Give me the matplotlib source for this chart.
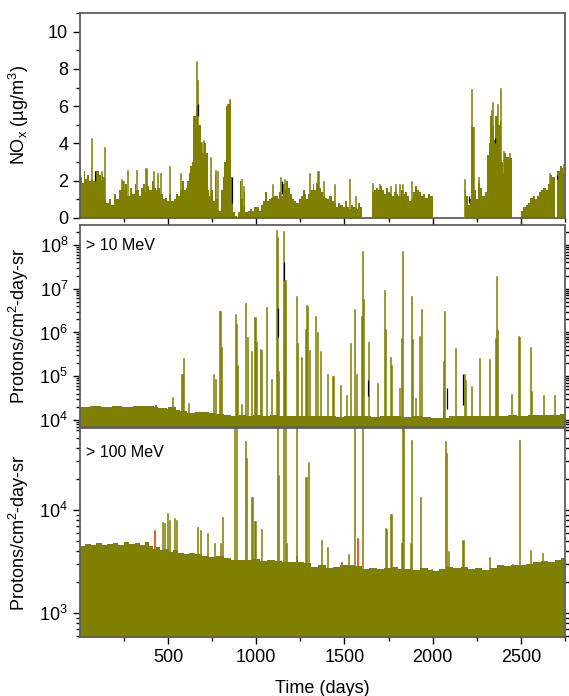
import numpy as np
import matplotlib
matplotlib.use("Agg")
import matplotlib.pyplot as plt
from matplotlib.ticker import MultipleLocator, LogLocator, NullFormatter

plt.rcParams['font.family'] = ['Liberation Sans', 'DejaVu Sans']
plt.rcParams['mathtext.fontset'] = 'custom'
plt.rcParams['mathtext.rm'] = 'Liberation Sans'
plt.rcParams['mathtext.it'] = 'Liberation Sans:italic'
plt.rcParams['mathtext.bf'] = 'Liberation Sans:bold'

OLIVE = '#808000'

# ---------------- NOx (top panel) ----------------
nox_days = [0,6,14,23,31,41,52,62,76,85,97,109,120,128,140,151,165,175,192,206,221,237,248,258,268,283,295,310,320,333,
            345,357,370,382,394,407,419,432,444,456,469,481,493,506,518,531,543,557,568,578,588,599,609,617,626,634,642,650,
            659,667,675,684,692,704,716,725,733,743,753,766,774,783,791,803,811,820,828,840,849,857,863,871,880,890,898,908,
            915,923,931,939,952,964,977,989,1001,1014,1026,1038,1051,1059,1072,1084,1096,1109,1121,1129,1142,1150,1162,1171,
            1181,1191,1204,1216,1228,1241,1253,1266,1274,1282,1295,1307,1320,1328,1336,1344,1352,1365,1377,1390,1402,1414,
            1427,1439,1451,1464,1476,1489,1501,1513,1526,1538,1551,1563,1575,1588,1602,1656,1666,1679,1691,1703,1714,1724,
            1736,1745,1757,1769,1782,1794,1806,1819,1831,1844,1856,1864,1877,1889,1901,1910,1922,1934,1947,1959,1971,1984,
            2003,2182,2190,2199,2211,2219,2232,2244,2257,2269,2281,2294,2306,2318,2327,2339,2347,2356,2368,2380,2389,2397,
            2405,2417,2430,2447,2502,2513,2529,2542,2554,2566,2579,2591,2603,2616,2628,2641,2653,2663,2677,2694,2707,2719,
            2731,2740]
nox_vals = [2.7,2.2,1.9,2.5,2.1,2.3,2.0,2.1,2.0,2.5,2.5,2.3,2.0,2.2,1.0,0.8,1.0,0.7,1.3,1.0,1.5,2.0,1.5,1.8,1.2,1.6,1.3,1.8,1.5,1.2,
            1.6,1.8,1.4,1.7,1.5,2.0,1.6,1.5,1.6,1.3,1.0,1.1,0.9,1.3,0.9,1.0,1.3,1.2,1.5,2.0,1.5,1.6,2.0,2.4,2.8,3.0,5.5,5.5,
            6.0,5.0,5.0,4.0,3.5,4.0,3.5,1.5,1.2,1.5,0.9,2.3,1.0,0.5,0.4,1.5,2.2,3.0,6.0,6.1,6.3,2.2,0.8,0.3,0.1,0.0,0.3,2.0,
            1.0,0.6,1.4,0.3,0.4,0.5,0.4,0.6,0.6,0.4,0.7,0.9,1.4,0.9,1.0,1.1,1.2,1.2,1.0,1.4,1.2,1.8,1.5,2.0,
            1.6,1.3,1.0,0.9,0.8,1.0,1.2,1.5,1.3,1.0,1.3,1.5,1.8,1.5,1.9,1.8,1.6,1.4,1.2,1.1,1.0,1.2,
            0.9,0.8,0.6,0.8,0.7,0.6,0.9,0.6,0.5,0.7,0.6,0.5,0.8,0.6,0.0,1.4,1.5,1.6,1.5,1.7,1.5,1.3,
            1.6,1.4,1.3,1.2,1.4,1.3,1.2,1.5,1.3,1.4,1.2,0.9,1.0,1.4,1.7,1.5,1.4,1.2,1.3,1.1,1.3,1.2,
            0.0,1.5,1.2,0.7,1.0,4.9,1.5,1.0,1.9,1.6,1.2,1.4,3.4,4.0,5.5,5.0,4.2,5.5,5.0,5.2,3.0,2.4,
            3.5,3.3,3.2,0.0,0.4,0.6,0.7,0.8,1.1,1.2,1.0,1.2,1.4,1.5,1.6,1.5,1.8,2.3,2.2,0.0,2.5,2.8,
            2.7,2.4]
nox_spike_days = [68,124,138,236,248,268,320,375,417,440,458,510,572,659,667,676,690,700,740,770,782,836,846,
                  918,930,1090,1140,1160,1300,1350,1380,1445,1530,1560,1660,1700,1760,1790,1810,1830,1880,
                  2182,2220,2230,2262,2336,2341,2370,2385,2400,2433,2663,2740]
nox_spike_vals = [4.3,2.5,3.8,2.1,2.0,2.6,2.6,2.7,2.5,2.4,2.4,2.8,2.4,8.4,7.4,5.0,4.1,4.2,3.3,2.6,2.5,6.1,6.4,
                  2.1,1.7,1.8,2.2,2.1,2.4,2.5,2.0,1.8,2.1,1.2,1.9,1.8,1.7,1.8,1.8,1.8,2.0,
                  2.1,6.9,4.9,2.2,5.8,6.2,6.1,7.0,3.6,3.5,2.4,2.9]
nox_black_days = [87,668,863,1146,2205,2356,2704]
nox_black_lo = [2.0,5.5,0.8,1.3,0.8,4.0,2.1]
nox_black_hi = [2.5,6.1,2.2,2.0,1.2,4.3,2.3]

# ---------------- > 10 MeV (middle panel) ----------------
p10_days = [0,60,120,180,240,300,360,420,427,435,444,470,495,500,547,568,609,650,692,733,774,816,857,900,940,981,
            1030,1080,1130,1187,1240,1290,1340,1394,1450,1500,1550,1600,1650,1700,1760,1820,1880,1940,1992,2075,2095,
            2160,2219,2280,2340,2426,2480,2540,2600,2660,2720]
p10_vals = [2.0e4,2.05e4,2.0e4,2.05e4,2.0e4,2.05e4,2.05e4,2.0e4,2.2e4,2.0e4,1.9e4,1.85e4,1.8e4,2.0e4,1.7e4,1.6e4,1.45e4,
            1.5e4,1.5e4,1.45e4,1.4e4,1.3e4,1.25e4,1.3e4,1.25e4,1.3e4,1.25e4,1.3e4,1.25e4,1.25e4,1.2e4,1.25e4,1.2e4,
            1.2e4,1.15e4,1.2e4,1.2e4,1.2e4,1.15e4,1.2e4,1.2e4,1.15e4,1.2e4,1.15e4,1.1e4,1.1e4,1.2e4,1.2e4,1.25e4,1.2e4,
            1.25e4,1.3e4,1.25e4,1.3e4,1.3e4,1.3e4,1.35e4]
p10_spike_days = [526,576,582,588,614,758,771,791,799,805,881,887,892,915,939,948,975,993,999,1022,1028,1059,1086,
                  1115,1121,1125,1152,1158,1163,1228,1234,1259,1280,1286,1292,1300,1338,1348,1362,1404,1435,1476,
                  1513,1534,1559,1569,1596,1600,1606,1635,1689,1728,1734,1759,1765,1810,1823,1831,1879,1885,1905,
                  1926,1935,2060,2064,2068,2130,2178,2186,2219,2264,2322,2358,2364,2370,2447,2488,2494,2554,2560,
                  2628,2690]
p10_spike_vals = [3.3e4,1.1e5,1.1e5,2.6e5,2.5e4,1.1e5,8.7e4,3.1e6,3.1e6,4.6e5,2.7e6,1.55e6,1.8e5,2.3e4,4.8e6,8e5,
                  3.8e5,2.3e6,6.2e5,4.1e5,4.0e5,3.8e6,8.7e4,2.2e8,1.5e8,1.3e5,2.1e8,1.3e5,1.6e7,6.9e6,5.6e5,2.8e5,
                  1.2e6,4.3e6,4.0e6,3.9e5,2.4e6,1.0e6,3.8e5,1.15e5,1.0e5,6.4e4,3.8e4,5.6e5,3.5e6,1.1e5,2.4e6,7.4e7,
                  5.8e6,5.9e5,7e4,9.5e6,1.2e6,2.7e5,1.8e5,5.4e4,7.6e5,7.4e7,6.8e6,7e5,3.2e4,8.3e5,3.5e6,2.2e5,4.9e4,
                  3.1e6,4.3e5,1.1e5,8e4,6e4,2.6e5,2.5e5,7.6e5,2.0e7,1.15e6,4e4,8.3e5,8e5,4.7e5,4.5e4,3.8e4,3.7e4]
p10_black_days = [1121,1158,1635,2080,2172]
p10_black_lo = [8e5,1.6e7,3.5e4,1.8e4,2.2e4]
p10_black_hi = [3.6e6,4e7,8e4,5.5e4,1.1e5]

# ---------------- > 100 MeV (bottom panel) ----------------
p100_days = [0,31,62,93,124,155,186,217,248,279,310,341,372,392,413,434,454,475,506,526,557,588,619,650,692,733,774,
             816,857,898,939,981,1022,1063,1105,1146,1187,1228,1270,1311,1352,1394,1435,1476,1517,1559,1600,1641,
             1683,1724,1765,1806,1848,1889,1930,1972,2003,2034,2075,2116,2158,2199,2240,2281,2323,2364,2405,2446,
             2488,2529,2570,2612,2653,2694,2725]
p100_vals = [4.5e3,4.7e3,4.6e3,4.8e3,4.6e3,4.7e3,4.8e3,4.6e3,4.9e3,4.7e3,4.8e3,4.6e3,4.9e3,4.5e3,4.2e3,4.4e3,4.1e3,
             4.2e3,3.9e3,4.1e3,3.8e3,3.7e3,3.8e3,3.7e3,3.6e3,3.5e3,3.6e3,3.4e3,3.3e3,3.25e3,3.3e3,3.35e3,3.2e3,3.3e3,
             3.2e3,3.15e3,3.1e3,3.1e3,3.05e3,2.8e3,2.9e3,2.75e3,2.8e3,2.9e3,2.95e3,2.85e3,2.7e3,2.75e3,2.7e3,2.75e3,
             2.8e3,2.65e3,2.7e3,2.6e3,2.75e3,2.6e3,2.55e3,2.65e3,2.8e3,2.75e3,2.8e3,2.7e3,2.75e3,2.6e3,2.75e3,2.9e3,
             2.85e3,2.95e3,2.9e3,3.0e3,3.1e3,3.2e3,3.1e3,3.3e3,3.4e3]
p100_spike_days = [469,481,496,506,537,547,667,684,726,761,798,811,879,889,939,947,974,981,993,1032,1119,1125,1156,
                   1164,1170,1228,1282,1296,1369,1404,1524,1559,1600,1730,1736,1761,1765,1823,1827,1832,1875,1879,
                   1930,2071,2079,2089,2172,2323,2494,2556,2622]
p100_spike_vals = [7.7e3,7.5e3,9.4e3,8.0e3,8.3e3,8.0e3,6.9e3,6.4e3,6.0e3,4.8e3,4.8e3,8.5e3,1e5,1e5,4.7e4,3.2e4,1.35e4,
                   1.35e4,7.8e3,6.6e3,1e5,2.2e4,1e5,1e5,4.8e3,1e5,2.1e4,2.9e4,5.1e3,4.4e3,3.7e3,1e5,1e5,6.7e3,6.6e3,
                   9.1e3,9.1e3,4.8e3,1e5,1e5,4.8e3,4.8e4,1.35e4,4.7e4,3.6e4,4.0e3,5.1e3,3.5e3,4.8e4,4.1e3,3.8e3]
p100_red_days = [423,1230,1485,1575,1995,2450]
p100_red_vals = [6.4e3,3.6e3,3.1e3,5.3e3,2.7e3,3.0e3]

XMAX = 2750
SPIKE_W = 6

# ---------------- figure ----------------
fig = plt.figure(figsize=(5.69, 6.96), dpi=100)
L, W = 80/569, 485/569
ax1 = fig.add_axes([L, 1-218/696, W, 205/696])
ax2 = fig.add_axes([L, 1-427/696, W, 202/696])
ax3 = fig.add_axes([L, 1-637/696, W, 209/696])


def step_fill(ax, days, vals, base):
    x = list(days) + [XMAX]
    y = list(vals) + [vals[-1]]
    ax.fill_between(x, base, y, step='post', color=OLIVE, linewidth=0, antialiased=True)


def spikes(ax, days, vals, base, color=OLIVE):
    ax.bar(days, np.array(vals) - base, bottom=base, width=SPIKE_W, color=color,
           edgecolor=color, linewidth=0.4)


# top panel
step_fill(ax1, nox_days, nox_vals, 0)
spikes(ax1, nox_spike_days, nox_spike_vals, 0)
ax1.vlines(nox_black_days, nox_black_lo, nox_black_hi, color='black', linewidth=0.9)
ax1.set_ylim(0, 11)
ax1.yaxis.set_major_locator(MultipleLocator(2))
ax1.yaxis.set_minor_locator(MultipleLocator(1))
ax1.set_ylabel('NO$_\\mathregular{x}$ (µg/m$^\\mathregular{3}$)', fontsize=13)

# middle panel
step_fill(ax2, p10_days, p10_vals, 1)
spikes(ax2, p10_spike_days, p10_spike_vals, 1)
ax2.vlines(p10_black_days, p10_black_lo, p10_black_hi, color='black', linewidth=0.9)
ax2.set_yscale('log')
ax2.set_ylim(6.9e3, 2.86e8)
ax2.set_ylabel('Protons/cm$^\\mathregular{2}$-day-sr', fontsize=13)
ax2.text(0.013, 0.90, '> 10 MeV', transform=ax2.transAxes, fontsize=11.5, va='center', ha='left')

# bottom panel
spikes(ax3, p100_red_days, p100_red_vals, 1, color='#e03010')
step_fill(ax3, p100_days, p100_vals, 1)
spikes(ax3, p100_spike_days, p100_spike_vals, 1)
ax3.set_yscale('log')
ax3.set_ylim(585, 6.25e4)
ax3.set_ylabel('Protons/cm$^\\mathregular{2}$-day-sr', fontsize=13)
ax3.text(0.013, 0.885, '> 100 MeV', transform=ax3.transAxes, fontsize=11.5, va='center', ha='left')
ax3.set_xlabel('Time (days)', fontsize=13, labelpad=10)

for ax in (ax1, ax2, ax3):
    ax.set_xlim(1, XMAX)
    ax.xaxis.set_major_locator(MultipleLocator(500))
    ax.xaxis.set_minor_locator(MultipleLocator(250))
    for s in ax.spines.values():
        s.set_color('#5f5f5f')
        s.set_linewidth(1.3)
    ax.tick_params(which='major', direction='out', length=5, width=1, labelsize=13, color='black')
    ax.tick_params(which='minor', direction='out', length=3, width=1, color='black')
    ax.yaxis.set_label_coords(-0.1, 0.5)

for ax in (ax2, ax3):
    ax.yaxis.set_major_locator(LogLocator(base=10, numticks=12))
    ax.yaxis.set_minor_locator(LogLocator(base=10, subs=np.arange(2, 10), numticks=12))
    ax.yaxis.set_minor_formatter(NullFormatter())
    ax.tick_params(axis='y', which='both', right=True)

ax1.tick_params(axis='x', labelbottom=False)
ax2.tick_params(axis='x', labelbottom=False)

fig.savefig('out.png', dpi=100)
